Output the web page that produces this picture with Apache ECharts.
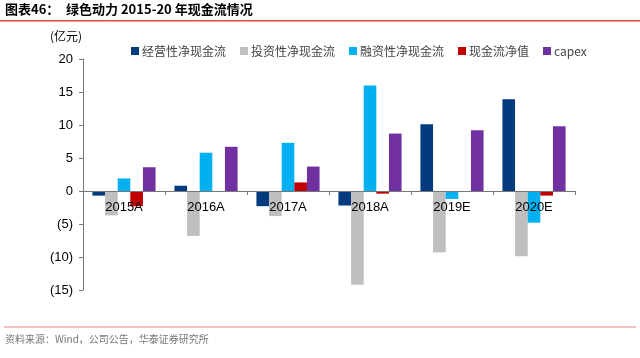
<!DOCTYPE html>
<html><head><meta charset="utf-8">
<script src="https://cdn.jsdelivr.net/npm/echarts@6/dist/echarts.min.js"></script>
<style>html,body{margin:0;padding:0;background:#fff}#c{width:640px;height:358px}</style>
</head><body><div id="c"></div>
<script>
const categories = ['2015A','2016A','2017A','2018A','2019E','2020E'];
const seriesNames = ['经营性净现金流','投资性净现金流','融资性净现金流','现金流净值','capex'];
const operating = [-0.7, 0.8, -2.3, -2.2, 10.1, 13.9];
const investing = [-3.7, -6.8, -3.8, -14.2, -9.3, -9.9];
const financing = [1.9, 5.8, 7.3, 16.0, -1.2, -4.8];
const netCash = [-2.3, 0.0, 1.3, -0.4, -0.1, -0.7];
const capex = [3.6, 6.7, 3.7, 8.7, 9.2, 9.8];
const colors = ['#033B7E','#BFBFBF','#00B0F0','#C00000','#7030A0'];
const yTicks = {min: -15, max: 20, interval: 5};

const cjk = '"Noto Sans CJK SC", sans-serif';
const latin = '"Liberation Sans", Arial, sans-serif';
const chart = echarts.init(document.getElementById('c'));
const data = [operating, investing, financing, netCash, capex];
const gridTop = 59, gridBottom = 68, plotH = 358 - gridTop - gridBottom;
const zeroOffset = -plotH * (0 - yTicks.min) / (yTicks.max - yTicks.min);
chart.setOption({
  animation: false,
  textStyle: {fontFamily: latin},
  grid: {left: 83, right: 65, top: gridTop, bottom: gridBottom, containLabel: false},
  legend: {
    left: 126, top: 40, itemWidth: 8, itemHeight: 8, itemGap: 14,
    icon: 'rect',
    textStyle: {fontFamily: cjk, fontSize: 12, color: '#444', padding: [0,0,0,-2]},
    data: seriesNames
  },
  xAxis: {
    type: 'category', data: categories, z: 5, position: 'bottom', offset: zeroOffset,
    axisLine: {onZero: false, lineStyle: {color: '#777', width: 1}},
    axisTick: {show: true, length: 4, lineStyle: {color: '#777'}},
    axisLabel: {color: '#000', fontSize: 13, fontFamily: latin, margin: 10}
  },
  yAxis: {
    type: 'value', min: yTicks.min, max: yTicks.max, interval: yTicks.interval,
    splitLine: {show: false},
    axisLine: {show: true, lineStyle: {color: '#777'}},
    axisTick: {show: true, length: 4, lineStyle: {color: '#777'}},
    axisLabel: {color: '#000', fontSize: 13, fontFamily: latin, margin: 10,
      formatter: v => v < 0 ? '(' + (-v) + ')' : String(v)}
  },
  series: seriesNames.map((n, i) => ({
    name: n, type: 'bar', data: data[i], barGap: '0%', barCategoryGap: '23%',
    itemStyle: {color: colors[i]}
  })),
  graphic: [
    {type: 'text', left: 5, top: 3, style: {text: '图表46：', font: 'bold 13px ' + cjk, fill: '#000'}},
    {type: 'text', left: 66, top: 3, style: {text: '绿色动力 2015-20 年现金流情况', font: 'bold 13px ' + cjk, fill: '#000'}},
    {type: 'rect', shape: {x: 0, y: 20, width: 640, height: 1.5}, style: {fill: '#E04B3C'}},
    {type: 'text', left: 50, top: 30, style: {text: '(亿元)', font: '12px ' + cjk, fill: '#000'}},
    {type: 'rect', shape: {x: 4, y: 326.5, width: 632, height: 1}, style: {fill: '#E8888A'}},
    {type: 'text', left: 5, top: 334, style: {text: '资料来源：Wind，公司公告，华泰证券研究所', font: '10px ' + cjk, fill: '#777'}}
  ]
});
</script></body></html>
